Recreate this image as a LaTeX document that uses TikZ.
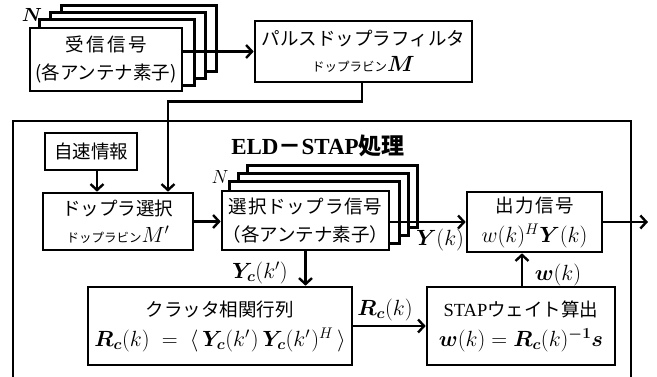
\RequirePackage{fix-cm}
\documentclass[tikz,border=0pt]{standalone}
\usepackage{amsmath,bm}
\usepackage{fontspec}
\setmainfont{Liberation Serif}
\newfontfamily\jp{Noto Sans CJK JP}
\usetikzlibrary{arrows.meta,backgrounds}
\newcommand\bigjp{\jp\fontsize{18.5}{28}\selectfont}
\newcommand\widejp[2]{{\addfontfeatures{LetterSpace=#1}#2}}
\newcommand\smalljp[1]{{\jp\fontsize{12.5}{14}\selectfont #1}}
\newcommand\mathsz{\fontsize{22}{26}\selectfont}
\begin{document}
\begin{tikzpicture}[x=1pt,y=-1pt,
  box/.style={draw, line width=2.6pt, fill=white, inner sep=0pt, align=center, font=\bigjp},
  backbox/.style={draw, line width=2.6pt, fill=white},
  arr/.style={line width=2.4pt, -{Straight Barb[length=6pt,width=13pt]}},
  lbl/.style={font=\mathsz, inner sep=1pt}]
\useasboundingbox (0,0) rectangle (657,376);
% outer frame
\draw[line width=1.1pt] (13,378) -- (13,121) -- (631,121) -- (631,378);
% nodes
\node[box, minimum width=152pt, minimum height=63pt] (rx) at (106,59.5)
  {\widejp{13}{受信信号}\\(各アンテナ素子)};
\node[box, minimum width=217pt, minimum height=61pt] (pdf) at (363.5,51.5)
  {パルスドップラフィルタ\\[-2pt]\smalljp{ドップラビン}{\mathsz$\bm{M}$}};
\node[box, minimum width=92pt, minimum height=37pt] (jisoku) at (91,151.5) {自速情報};
\node[box, minimum width=150pt, minimum height=57pt] (dsel) at (118,221.5)
  {ドップラ選択\\[-1pt]\smalljp{ドップラビン}{\mathsz$M'$}};
\node[box, minimum width=167pt, minimum height=59pt] (ssel) at (305.5,220.5)
  {\widejp{4}{選択ドップラ信号}\\（各アンテナ素子）};
\node[box, minimum width=135pt, minimum height=60pt] (outp) at (534.5,222)
  {\widejp{8}{出力信号}\\[2pt]{\mathsz$w(k)^H\bm{Y}(k)$}};
\node[box, minimum width=264pt, minimum height=78pt] (clut) at (220,326)
  {クラッタ相関行列\\[2pt]{\mathsz$\bm{R_c}(k)\;=\;\langle\,\bm{Y_c}(k'\mkern1mu)\,\bm{Y_c}(k'\mkern1mu)^H\,\rangle$}};
\node[box, minimum width=188pt, minimum height=78pt] (stap) at (521,326)
  {{\rmfamily STAP}ウェイト算出\\[2pt]{\mathsz$\bm{w}(k)=\bm{R_c}(k)^{\bm{-1}}\bm{s}$}};
\node[font=\fontsize{23}{26}\selectfont\bfseries] (title) at (318,146)
  {ELD{\jp －}STAP{\jp 処理}};
\node[font=\fontsize{19}{22}\selectfont, inner sep=1pt] (nrx) at (32,15) {$\bm{N}$};
\node[font=\fontsize{19}{22}\selectfont, inner sep=1pt] (nss) at (220,177) {$N$};
% stacked copies
\begin{scope}[on background layer]
  \foreach \i in {3,2,1}{
    \draw[backbox] ([shift={(\i*11,-\i*7)}]rx.south west) rectangle ([shift={(\i*11,-\i*7)}]rx.north east);
    \draw[backbox] ([shift={(\i*9,-\i*8)}]ssel.south west) rectangle ([shift={(\i*9,-\i*8)}]ssel.north east);
  }
\end{scope}
% connectors
\coordinate (outend) at (648,222);
\draw[arr] (pdf.west -| rx.east) -- (pdf.west);
\draw[arr] ([xshift=-1.5pt]pdf.south) -- ++(0,18) -| ([xshift=50pt]dsel.north);
\draw[arr] ([xshift=6pt]jisoku.south) -- ([xshift=6pt]jisoku.south |- dsel.north);
\draw[arr] (dsel.east) -- (dsel.east -| ssel.west);
\draw[arr] (ssel.east |- outp.west) -- (outp.west);
\draw[arr] (outp.east) -- (outend);
\draw[arr] (ssel.south) -- (ssel.south |- clut.north);
\draw[arr] (clut.east) -- (stap.west);
\draw[arr] ([xshift=1pt]stap.north) -- ([xshift=1pt]stap.north |- outp.south);
% labels
\node[lbl] (lY) at (440,240) {$\bm{Y}(k)$};
\node[lbl] (lYc) at (260,273) {$\bm{Y_c}(k')$};
\node[lbl] (lRc) at (385,310) {$\bm{R_c}(k)$};
\node[lbl] (lw) at (558,275) {$\bm{w}(k)$};
\end{tikzpicture}
\end{document}
